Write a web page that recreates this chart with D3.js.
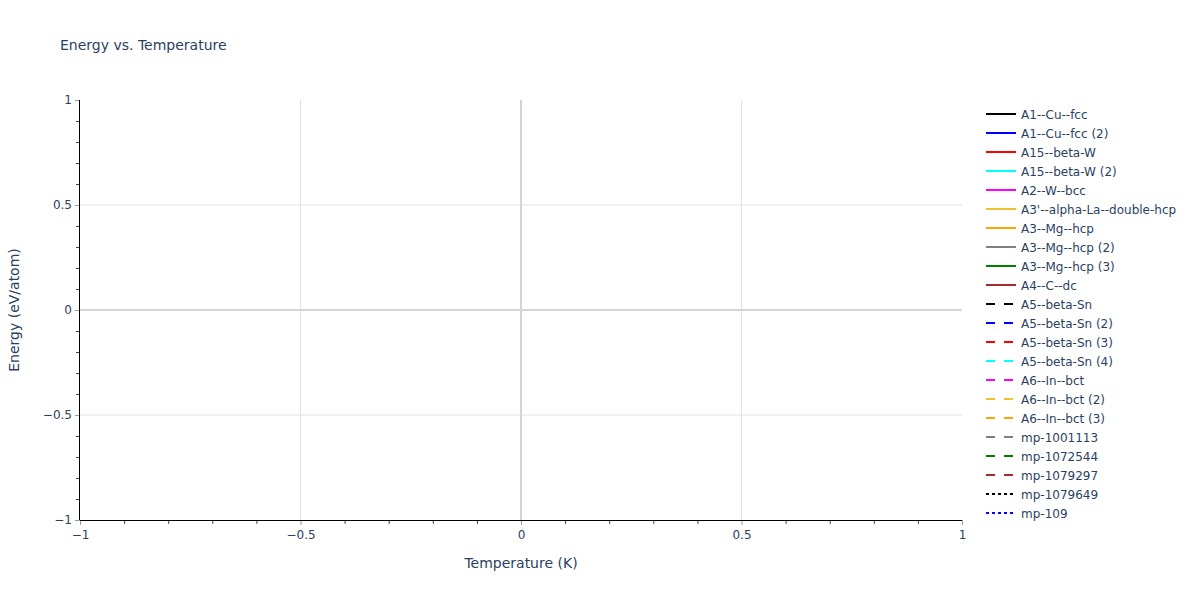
<!DOCTYPE html>
<html><head><meta charset="utf-8">
<script src="https://cdn.jsdelivr.net/npm/d3@7"></script>
<style>
body{margin:0;background:#fff;}
svg{font-family:"DejaVu Sans",Verdana,sans-serif;}
</style></head>
<body><svg id="c" width="1200" height="600"></svg>
<script>
const seriesNames = ["A1--Cu--fcc","A1--Cu--fcc (2)","A15--beta-W","A15--beta-W (2)","A2--W--bcc","A3'--alpha-La--double-hcp","A3--Mg--hcp","A3--Mg--hcp (2)","A3--Mg--hcp (3)","A4--C--dc","A5--beta-Sn","A5--beta-Sn (2)","A5--beta-Sn (3)","A5--beta-Sn (4)","A6--In--bct","A6--In--bct (2)","A6--In--bct (3)","mp-1001113","mp-1072544","mp-1079297","mp-1079649","mp-109"];
const seriesColors = ["#000000","#0000ff","#ff0000","#00ffff","#ff00ff","#f0c030","#ffa500","#808080","#008000","#a52a2a","#000000","#0000ff","#ff0000","#00ffff","#ff00ff","#f0c030","#ffa500","#808080","#008000","#a52a2a","#000000","#0000ff"];
const seriesDash = ["solid","solid","solid","solid","solid","solid","solid","solid","solid","solid","dash","dash","dash","dash","dash","dash","dash","dash","dash","dash","dot","dot"];
// No data points are drawn in the reference: every series is empty.
const seriesTemps = seriesNames.map(() => []);
const seriesEnergy = seriesNames.map(() => []);
const xTicks = [-1,-0.5,0,0.5,1];
const yTicks = [-1,-0.5,0,0.5,1];
const minorTicks = [-0.9,-0.8,-0.7,-0.6,-0.4,-0.3,-0.2,-0.1,0.1,0.2,0.3,0.4,0.6,0.7,0.8,0.9];

const svg = d3.select("#c");
const L=80,R=962,T=100,B=520;
const x = d3.scaleLinear().domain([-1,1]).range([L,R]);
const y = d3.scaleLinear().domain([-1,1]).range([B,T]);
const txt = "#2a3f5f";
const fmt = v => (v<0?"\u2212":"") + Math.abs(v);

// grid
const g = svg.append("g");
xTicks.filter(v=>v!==0 && Math.abs(v)!==1).forEach(v=>g.append("line").attr("x1",x(v)).attr("x2",x(v)).attr("y1",T).attr("y2",B).attr("stroke","#e2e2e2").attr("stroke-width",1));
yTicks.filter(v=>v!==0 && Math.abs(v)!==1).forEach(v=>g.append("line").attr("y1",y(v)).attr("y2",y(v)).attr("x1",L).attr("x2",R).attr("stroke","#e2e2e2").attr("stroke-width",1));
g.append("line").attr("x1",x(0)).attr("x2",x(0)).attr("y1",T).attr("y2",B).attr("stroke","#d4d4d4").attr("stroke-width",2);
g.append("line").attr("y1",y(0)).attr("y2",y(0)).attr("x1",L).attr("x2",R).attr("stroke","#d4d4d4").attr("stroke-width",2);

// series lines (empty)
const lineGen = d3.line().x(d=>x(d[0])).y(d=>y(d[1]));
const dashMap = {solid:null,dash:"9,9",dot:"3,3"};
seriesNames.forEach((n,i)=>{
  const pts = seriesTemps[i].map((t,j)=>[t,seriesEnergy[i][j]]);
  if(pts.length) svg.append("path").attr("d",lineGen(pts)).attr("fill","none").attr("stroke",seriesColors[i]).attr("stroke-width",2).attr("stroke-dasharray",dashMap[seriesDash[i]]);
});

// axes
const xa = svg.append("g").attr("transform",`translate(0,${B})`);
xa.call(d3.axisBottom(x).tickValues(minorTicks).tickSize(4).tickFormat(""));
xa.select(".domain").remove();
xa.selectAll(".tick line").attr("stroke","#444");
const xb = svg.append("g").attr("transform",`translate(0,${B})`);
xb.call(d3.axisBottom(x).tickValues(xTicks).tickSize(5).tickPadding(5).tickFormat(fmt));
xb.select(".domain").remove();
xb.selectAll(".tick line").attr("stroke","#999");
xb.selectAll(".tick text").attr("fill",txt).attr("font-size",12).attr("font-family","DejaVu Sans");
svg.append("line").attr("x1",L).attr("x2",R).attr("y1",B+0.5).attr("y2",B+0.5).attr("stroke","#000");

const ya = svg.append("g").attr("transform",`translate(${L},0)`);
ya.call(d3.axisLeft(y).tickValues(minorTicks).tickSize(4).tickFormat(""));
ya.select(".domain").remove();
ya.selectAll(".tick line").attr("stroke","#444");
const yb = svg.append("g").attr("transform",`translate(${L},0)`);
yb.call(d3.axisLeft(y).tickValues(yTicks).tickSize(5).tickPadding(3).tickFormat(fmt));
yb.select(".domain").remove();
yb.selectAll(".tick line").attr("stroke","#999");
yb.selectAll(".tick text").attr("fill",txt).attr("font-size",12).attr("font-family","DejaVu Sans");
svg.append("line").attr("x1",L-0.5).attr("x2",L-0.5).attr("y1",T).attr("y2",B).attr("stroke","#000");

// titles
svg.append("text").attr("x",60).attr("y",50).attr("fill",txt).attr("font-size",14).text("Energy vs. Temperature");
svg.append("text").attr("x",(L+R)/2).attr("y",568).attr("text-anchor","middle").attr("fill",txt).attr("font-size",14).text("Temperature (K)");
svg.append("text").attr("transform",`translate(19,${(T+B)/2}) rotate(-90)`).attr("text-anchor","middle").attr("fill",txt).attr("font-size",14).text("Energy (eV/atom)");

// legend
const lg = svg.append("g");
seriesNames.forEach((n,i)=>{
  const yy = 114 + i*19;
  lg.append("line").attr("x1",986).attr("x2",1016).attr("y1",yy).attr("y2",yy).attr("stroke",seriesColors[i]).attr("stroke-width",2).attr("stroke-dasharray",dashMap[seriesDash[i]]);
  lg.append("text").attr("x",1021).attr("y",yy+4.5).attr("fill",txt).attr("font-size",12).text(n);
});
</script></body></html>
